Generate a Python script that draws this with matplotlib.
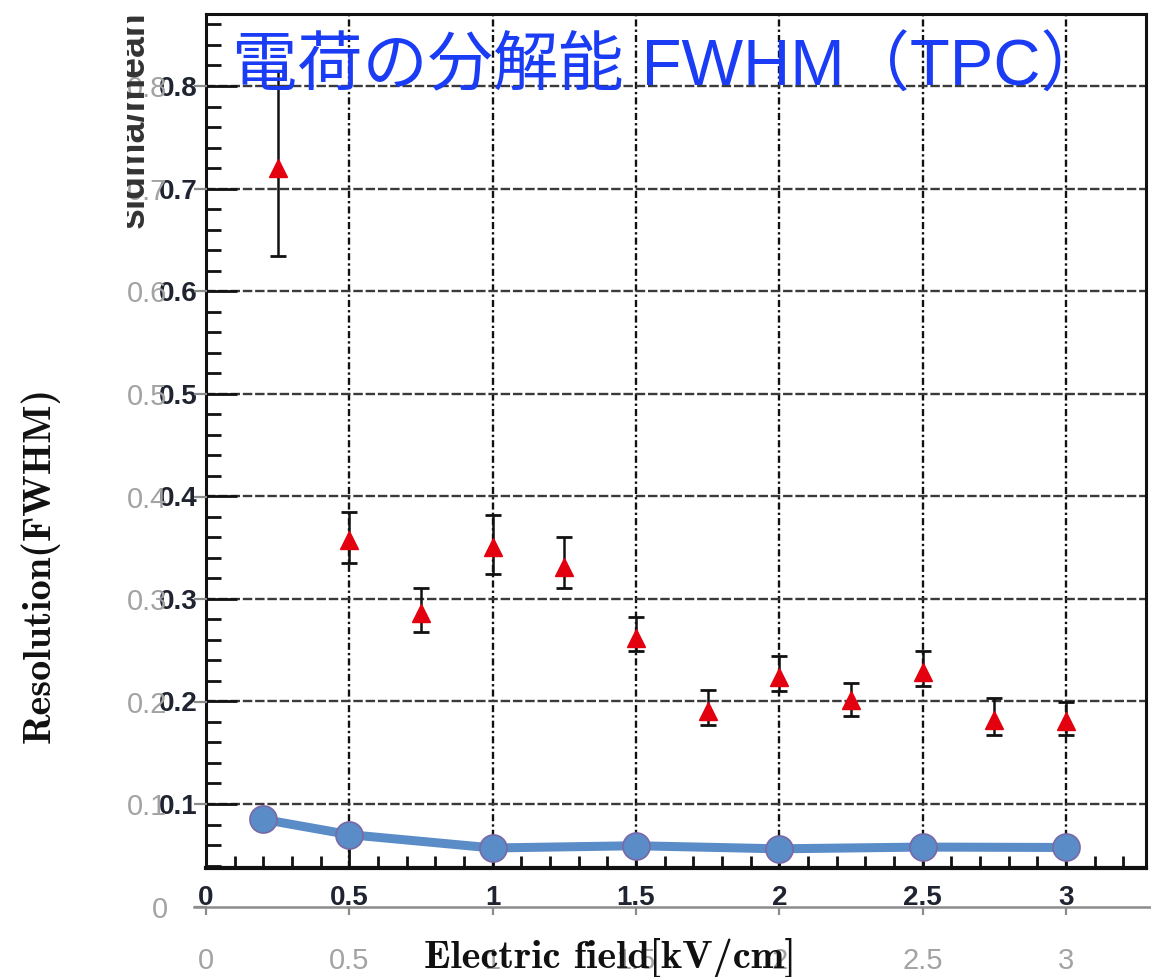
import matplotlib
matplotlib.use('Agg')
import matplotlib.pyplot as plt
from matplotlib.ticker import FixedLocator, MultipleLocator

# ---------------- data ----------------
# ROOT graph (red triangles with error bars)
root_x = [0.25, 0.5, 0.75, 1.0, 1.25, 1.5, 1.75, 2.0, 2.25, 2.5, 2.75, 3.0]
root_y = [0.720, 0.357, 0.286, 0.351, 0.331, 0.262, 0.191, 0.224, 0.201, 0.229, 0.182, 0.181]
root_hi = [0.815, 0.385, 0.311, 0.382, 0.360, 0.282, 0.211, 0.244, 0.218, 0.249, 0.203, 0.199]
root_lo = [0.634, 0.335, 0.268, 0.324, 0.311, 0.249, 0.177, 0.210, 0.186, 0.215, 0.167, 0.167]

# Excel series (blue line with circles)
excel_x = [0.2, 0.5, 1.0, 1.5, 2.0, 2.5, 3.0]
excel_y = [0.0854, 0.0705, 0.0575, 0.0597, 0.0567, 0.0584, 0.0580]

root_xticks = [0, 0.5, 1, 1.5, 2, 2.5, 3]
root_xticklabels = ['0', '0.5', '1', '1.5', '2', '2.5', '3']
root_yticks = [0.1, 0.2, 0.3, 0.4, 0.5, 0.6, 0.7, 0.8]
root_yticklabels = ['0.1', '0.2', '0.3', '0.4', '0.5', '0.6', '0.7', '0.8']

excel_xticks = [0, 0.5, 1, 1.5, 2, 2.5, 3]
excel_xticklabels = ['0', '0.5', '1', '1.5', '2', '2.5', '3']
excel_yticks = [0, 0.1, 0.2, 0.3, 0.4, 0.5, 0.6, 0.7, 0.8]
excel_yticklabels = ['0', '0.1', '0.2', '0.3', '0.4', '0.5', '0.6', '0.7', '0.8']

title_text = '電荷の分解能 FWHM（TPC）'
xlabel_text = 'Electric field[kV/cm]'
ylabel_text = 'Resolution(FWHM)'
root_ytitle = 'sigma/mean'

# ---------------- layout ----------------
W, H = 1151, 977
DPI = 100
PX_X = 286.67   # pixels per x unit
PX_Y = 1025.7   # pixels per y unit


def fx(px):
    return px / W


def fy(py):
    return (H - py) / H


fig = plt.figure(figsize=(W / DPI, H / DPI), dpi=DPI)
fig.patch.set_facecolor('white')

# ROOT frame: x 206..1146 px, y 14..868 px
ax = fig.add_axes([fx(206), fy(868), (1146 - 206) / W, (868 - 14) / H])
ax.set_xlim(0, (1146 - 206) / PX_X)
ax.set_ylim(0.8 - (868 - 86) / PX_Y, 0.8 + (86 - 14) / PX_Y)
ax.set_facecolor('white')
for s in ax.spines.values():
    s.set_linewidth(2.2)
    s.set_color('#111111')
ax.spines['bottom'].set_linewidth(3.0)

ax.xaxis.set_major_locator(FixedLocator(root_xticks))
ax.set_xticklabels(root_xticklabels)
ax.xaxis.set_minor_locator(MultipleLocator(0.1))
ax.yaxis.set_major_locator(FixedLocator(root_yticks))
ax.set_yticklabels(root_yticklabels)
ax.yaxis.set_minor_locator(MultipleLocator(0.02))
ax.tick_params(axis='both', which='both', direction='in', color='#111111')
ax.tick_params(axis='x', which='major', length=18, width=2, pad=12)
ax.tick_params(axis='x', which='minor', length=9, width=2)
ax.tick_params(axis='y', which='major', length=22, width=2, pad=6)
ax.tick_params(axis='y', which='minor', length=11, width=2)
for lab in ax.get_xticklabels() + ax.get_yticklabels():
    lab.set_fontfamily('Liberation Sans')
    lab.set_fontweight('bold')
    lab.set_fontsize(20)
    lab.set_color('#1f2430')

# grid
for gx in root_xticks[1:]:
    ax.axvline(gx, color='#111111', lw=1.7, dashes=(3, 1.3, 1, 1.3), zorder=1)
for gy in root_yticks:
    ax.axhline(gy, color='#3a3a3a', lw=1.7, dashes=(4, 1.2), zorder=1)

# ROOT data
yerr = [[y - lo for y, lo in zip(root_y, root_lo)],
        [hi - y for y, hi in zip(root_y, root_hi)]]
ax.errorbar(root_x, root_y, yerr=yerr, fmt='none', ecolor='#111111',
            elinewidth=1.8, capsize=6, capthick=2.0, zorder=3)
ax.plot(root_x, root_y, linestyle='none', marker='^', ms=13,
        color='#e3000f', mec='#e3000f', zorder=4)

# Excel overlay axes
ax2 = fig.add_axes([fx(194), fy(907), (1151 - 194) / W, (907 - 14) / H])
ax2.set_xlim(-(206 - 194) / PX_X, (1151 - 206) / PX_X)
ax2.set_ylim(0, 0.8 + (86 - 14) / PX_Y)
ax2.patch.set_alpha(0)
for side in ['top', 'right', 'left']:
    ax2.spines[side].set_visible(False)
ax2.spines['bottom'].set_color('#8c8c8c')
ax2.spines['bottom'].set_linewidth(1.8)
ax2.xaxis.set_major_locator(FixedLocator(excel_xticks))
ax2.set_xticklabels(excel_xticklabels)
ax2.yaxis.set_major_locator(FixedLocator(excel_yticks))
ax2.set_yticklabels(excel_yticklabels)
ax2.tick_params(axis='x', direction='out', length=6, width=1.6,
                color='#8c8c8c', pad=23, labelcolor='#a3a3a3', labelsize=21)
ax2.tick_params(axis='y', direction='in', length=9, width=1.6,
                color='#8c8c8c', pad=19, labelcolor='#a3a3a3', labelsize=21)
for lab in ax2.get_xticklabels() + ax2.get_yticklabels():
    lab.set_fontfamily('Liberation Sans')

ax2.plot(excel_x, excel_y, color='#5a8cc8', lw=6.5, marker='o', ms=19.5,
         mfc='#5a8cc8', mec='#7a68a6', mew=1.2, solid_capstyle='round',
         zorder=5, clip_on=False)

# titles / labels
fig.text(fx(232), fy(86), title_text, color='#1a3cf5', fontsize=47,
         family=['Liberation Sans', 'Noto Sans CJK JP', 'DejaVu Sans'],
         ha='left', va='baseline')
fig.text(fx(610), fy(958), xlabel_text, family='cmb10', fontsize=29,
         color='#111111', ha='center', va='center')
fig.text(fx(40), fy(565), ylabel_text, family='cmb10', fontsize=29,
         color='#111111', ha='center', va='center', rotation=90)

# partially hidden ROOT y-axis title (clipped strip at the top-left)
cax = fig.add_axes([fx(127), fy(240), (144 - 127) / W, (240 - 0) / H])
cax.set_axis_off()
cax.set_xlim(0, 1)
cax.set_ylim(0, 1)
cax.text(1.0, 0.5, root_ytitle, transform=cax.transAxes,
         family='Liberation Sans', fontweight='bold', fontsize=27,
         color='#333333', rotation=90, rotation_mode='anchor',
         ha='center', va='baseline', clip_on=True)

fig.savefig('out.png', dpi=DPI, facecolor='white')
